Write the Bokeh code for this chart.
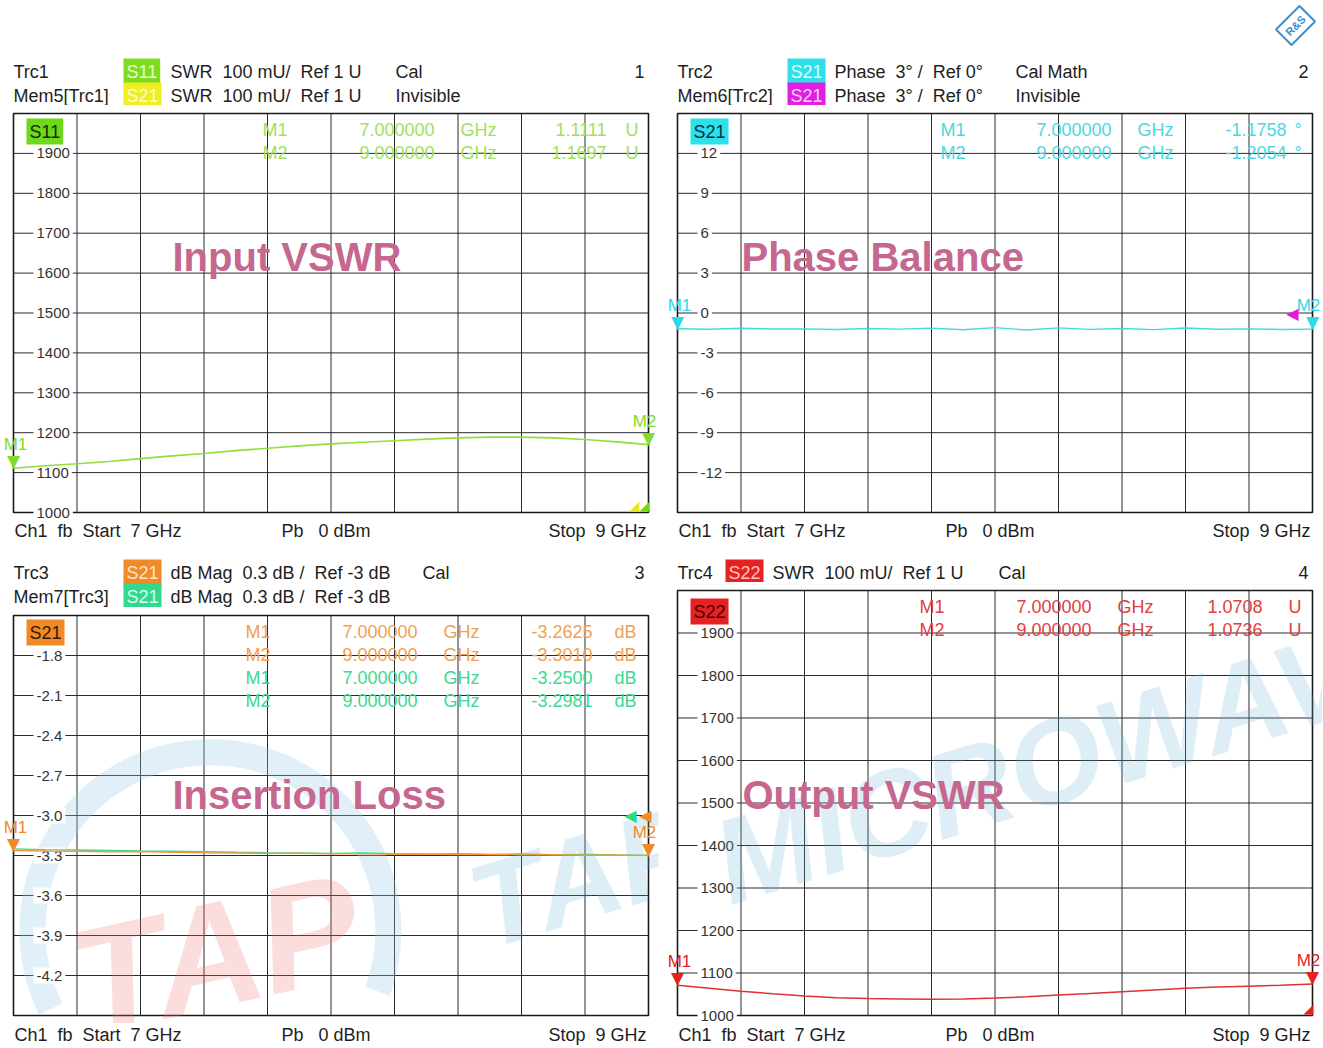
from bokeh.plotting import figure
from bokeh.models import Label, Range1d
from bokeh.layouts import column, row
from bokeh.embed import file_html
from bokeh.resources import INLINE

NB = "\u00a0"
FONT = "Liberation Sans"
TXT = "#1e1e1e"
GRID = "#2a2a2a"

# ---------------- data ----------------
freq_ghz = [7.0, 7.1, 7.2, 7.3, 7.4, 7.5, 7.6, 7.7, 7.8, 7.9, 8.0,
            8.1, 8.2, 8.3, 8.4, 8.5, 8.6, 8.7, 8.8, 8.9, 9.0]
x_ticks = [7.0, 7.2, 7.4, 7.6, 7.8, 8.0, 8.2, 8.4, 8.6, 8.8, 9.0]

s11_swr_mu = [1111, 1117, 1122, 1128, 1135, 1142, 1148, 1155, 1161, 1167, 1172,
              1176, 1180, 1184, 1187, 1189, 1189, 1187, 1183, 1177, 1170]
s21_phase_deg = [-1.18, -1.22, -1.15, -1.20, -1.19, -1.24, -1.17, -1.21, -1.14, -1.26, -1.10,
                 -1.28, -1.12, -1.23, -1.16, -1.25, -1.13, -1.22, -1.19, -1.24, -1.21]
s21_db = [-3.263, -3.266, -3.268, -3.272, -3.270, -3.276, -3.279, -3.281, -3.284, -3.283, -3.288,
          -3.286, -3.291, -3.289, -3.293, -3.292, -3.295, -3.294, -3.298, -3.296, -3.301]
s21_mem_db = [-3.250, -3.256, -3.259, -3.262, -3.266, -3.268, -3.272, -3.276, -3.279, -3.281, -3.284,
              -3.280, -3.287, -3.290, -3.286, -3.292, -3.289, -3.294, -3.292, -3.296, -3.298]
s22_swr_mu = [1071, 1064, 1057, 1051, 1046, 1042, 1040, 1039, 1038, 1039, 1041,
              1044, 1048, 1052, 1056, 1060, 1064, 1067, 1069, 1071, 1074]

swr_ticks = [1000, 1100, 1200, 1300, 1400, 1500, 1600, 1700, 1800, 1900, 2000]
swr_tick_labels = ["1000", "1100", "1200", "1300", "1400", "1500", "1600", "1700", "1800", "1900", ""]
phase_ticks = [-15, -12, -9, -6, -3, 0, 3, 6, 9, 12, 15]
phase_tick_labels = ["", "-12", "-9", "-6", "-3", "0", "3", "6", "9", "12", ""]
db_ticks = [-4.5, -4.2, -3.9, -3.6, -3.3, -3.0, -2.7, -2.4, -2.1, -1.8, -1.5]
db_tick_labels = ["", "-4.2", "-3.9", "-3.6", "-3.3", "-3.0", "-2.7", "-2.4", "-2.1", "-1.8", ""]

marker_freq = [7.0, 9.0]
marker_names = ["M1", "M2"]
marker_freq_text = ["7.000000", "9.000000"]
s11_marker_u = [1.1111, 1.1697]
s21_phase_marker = [-1.1758, -1.2054]
s21_db_marker = [-3.2625, -3.3010]
s21_mem_db_marker = [-3.2500, -3.2981]
s22_marker_u = [1.0708, 1.0736]

# ---------------- geometry ----------------
FW = 635          # visible plot box width (px)
PADX = 10         # extra drawing room left/right of the box
PADY = 8          # extra drawing room above/below the box
LEFT = dict(min_border_left=13 - PADX, min_border_right=4)
RIGHT = dict(min_border_left=5, min_border_right=0)


# ---------------- helpers ----------------
def base_fig(xr, yr, fh, side):
    p = figure(title=None, frame_width=FW + 2 * PADX, frame_height=fh, x_range=xr, y_range=yr,
               x_axis_location=None, y_axis_location=None,
               toolbar_location=None, output_backend="svg",
               min_border_top=0, min_border_bottom=0,
               background_fill_color="white", border_fill_color="white", **side)
    p.grid.visible = False
    p.outline_line_color = None
    return p


def text_fig(h, side):
    return base_fig(Range1d(-PADX, FW + PADX), Range1d(0, h), h, side)


def lab(p, x, y, text, dx=0, dy=0, color=TXT, size=18, align="left", bg=None,
        bold=False, pad=0, alpha=1.0, angle=0.0, baseline="middle", italic=False,
        font=FONT, border=None, border_w=1, level="annotation"):
    style = "bold" if bold else "normal"
    if italic:
        style = "bold italic" if bold else "italic"
    p.add_layout(Label(x=x, y=y, x_offset=dx, y_offset=dy, text=text,
                       text_color=color, text_font=font, text_font_size=f"{size}px",
                       text_align=align, text_baseline=baseline, text_font_style=style,
                       background_fill_color=bg, padding=pad, text_alpha=alpha,
                       angle=angle, border_line_color=border, border_line_width=border_w,
                       level=level))


def make_panel(ticks, labels, fh, side):
    ymin, ymax = ticks[0], ticks[-1]
    ex = PADX * (x_ticks[-1] - x_ticks[0]) / FW
    ey = PADY * (ymax - ymin) / fh
    p = base_fig(Range1d(x_ticks[0] - ex, x_ticks[-1] + ex), Range1d(ymin - ey, ymax + ey),
                 fh + 2 * PADY, side)
    inner_x = x_ticks[1:-1]
    p.segment(x0=inner_x, y0=[ymin] * len(inner_x), x1=inner_x, y1=[ymax] * len(inner_x),
              line_color=GRID, line_width=1, level="image")
    inner_y = ticks[1:-1]
    p.segment(x0=[x_ticks[0]] * len(inner_y), y0=inner_y, x1=[x_ticks[-1]] * len(inner_y),
              y1=inner_y, line_color=GRID, line_width=1, level="image")
    p.quad(left=[x_ticks[0]], right=[x_ticks[-1]], bottom=[ymin], top=[ymax],
           fill_color=None, line_color="#1a1a1a", line_width=1.6, level="image")
    for t, s in zip(ticks, labels):
        if s:
            lab(p, x_ticks[0], t, s, dx=20, size=15, color="#333333", bg="white", pad=3,
                level="underlay")
    return p


def footer(p, y):
    lab(p, 0, y, f"Ch1{NB}{NB}fb{NB}{NB}Start{NB}{NB}7 GHz", dx=1)
    lab(p, 0, y, f"Pb{NB}{NB}{NB}0 dBm", dx=268)
    lab(p, FW, y, f"Stop{NB}{NB}9 GHz", dx=-2, align="right")


def marker_rows(p, ymax, rows, cols, color, unit, first=0):
    for i, (nm, ft, vt) in enumerate(rows):
        dy = -16 - 23 * (i + first)
        lab(p, 7.0, ymax, nm, dx=cols[0], dy=dy, color=color)
        lab(p, 7.0, ymax, ft, dx=cols[1], dy=dy, color=color, align="right")
        lab(p, 7.0, ymax, "GHz", dx=cols[2], dy=dy, color=color)
        lab(p, 7.0, ymax, vt, dx=cols[3], dy=dy, color=color, align="right")
        lab(p, 7.0, ymax, unit, dx=cols[4], dy=dy, color=color)


def markers(p, ys, color):
    for f, y, nm, sh in zip(marker_freq, ys, marker_names, [2, -4]):
        lab(p, f, y, "\u25BC", color=color, size=17, align="center", baseline="bottom",
            font="DejaVu Sans", dy=-3)
        lab(p, f, y, nm, color=color, size=17, align="center", baseline="bottom", dy=14, dx=sh)


def title_text(p, ymax, text, dx, dy):
    lab(p, 7.0, ymax, text, dx=dx, dy=dy, color="#c5678f", size=40, bold=True)


# ================= left column =================
# header of panel 1 (page y 0..105)
h1 = text_fig(105, LEFT)
lab(h1, 0, 34, "Trc1")
lab(h1, 0, 34, "S11", dx=110, bg="#7ddc1f", color="#e6ffd0", pad=3)
lab(h1, 0, 34, f"SWR{NB}{NB}100 mU/{NB}{NB}Ref 1 U", dx=157)
lab(h1, 0, 34, "Cal", dx=382)
lab(h1, FW, 34, "1", dx=-4, align="right")
lab(h1, 0, 10, "Mem5[Trc1]")
lab(h1, 0, 10, "S21", dx=110, bg="#eeee22", color="#fbfbd8", pad=3)
lab(h1, 0, 10, f"SWR{NB}{NB}100 mU/{NB}{NB}Ref 1 U", dx=157)
lab(h1, 0, 10, "Invisible", dx=382)

# panel 1 : Input VSWR (box at page y 113..512)
p1 = make_panel(swr_ticks, swr_tick_labels, 399, LEFT)
p1.line(freq_ghz, s11_swr_mu, line_color="#8ee03a", line_width=1.6)
lab(p1, 7.0, 2000, "S11", dx=13, dy=-18, bg="#6fd81a", color="#1a2a00", pad=3)
marker_rows(p1, 2000,
            [(marker_names[i], marker_freq_text[i], f"{s11_marker_u[i]:.4f}") for i in range(2)],
            [249, 421, 447, 593, 612], "#9fe060", "U")
markers(p1, [v * 1000 for v in s11_marker_u], "#7fdc2a")
lab(p1, 9.0, 1000, "\u25E2", dx=-14, color="#e8e820", size=13, align="center",
    baseline="bottom", font="DejaVu Sans")
lab(p1, 9.0, 1000, "\u25E2", dx=-4, color="#6fd81a", size=13, align="center",
    baseline="bottom", font="DejaVu Sans")
title_text(p1, 2000, f"Input{NB}VSWR", 159, -143)

# footer of panel 1 + header of panel 3 (page y 520..607)
m1 = text_fig(87, LEFT)
footer(m1, 77)
lab(m1, 0, 35, "Trc3")
lab(m1, 0, 35, "S21", dx=110, bg="#f08a28", color="#fde4c8", pad=3)
lab(m1, 0, 35, f"dB Mag{NB}{NB}0.3 dB /{NB}{NB}Ref -3 dB", dx=157)
lab(m1, 0, 35, "Cal", dx=409)
lab(m1, FW, 35, "3", dx=-4, align="right")
lab(m1, 0, 11, "Mem7[Trc3]")
lab(m1, 0, 11, "S21", dx=110, bg="#30d890", color="#dcfff0", pad=3)
lab(m1, 0, 11, f"dB Mag{NB}{NB}0.3 dB /{NB}{NB}Ref -3 dB", dx=157)

# panel 3 : Insertion Loss (box at page y 615..1015)
p3 = make_panel(db_ticks, db_tick_labels, 400, LEFT)
p3.arc(x=[7.62], y=[-3.86], radius=178, radius_units="screen", start_angle=-0.35,
       end_angle=3.6, line_color="#9ccbe8", line_width=26, line_alpha=0.3, level="image")
lab(p3, 7.0, -4.5, "TAP", dx=62, dy=30, color="#f07878", size=150, bold=True,
    italic=True, alpha=0.25, angle=0.22, baseline="alphabetic", level="underlay")
lab(p3, 7.0, -4.5, "TAP", dx=460, dy=105, color="#6ab0dc", size=120, bold=True,
    italic=True, alpha=0.22, angle=0.3, baseline="alphabetic", level="underlay")
p3.line(freq_ghz, s21_mem_db, line_color="#3cd88c", line_width=1.4)
p3.line(freq_ghz, s21_db, line_color="#f09a40", line_width=1.4)
lab(p3, 7.0, -1.5, "S21", dx=13, dy=-17, bg="#f08a28", color="#3a1800", pad=3)
marker_rows(p3, -1.5,
            [(marker_names[i], marker_freq_text[i], f"{s21_db_marker[i]:.4f}") for i in range(2)],
            [232, 404, 430, 579, 601], "#f0a050", "dB")
marker_rows(p3, -1.5,
            [(marker_names[i], marker_freq_text[i], f"{s21_mem_db_marker[i]:.4f}") for i in range(2)],
            [232, 404, 430, 579, 601], "#40d890", "dB", first=2)
markers(p3, s21_db_marker, "#f08a28")
lab(p3, 9.0, -3.0, "\u25C0", dx=-18, color="#30d880", size=16, align="center",
    font="DejaVu Sans")
lab(p3, 9.0, -3.0, "\u25C0", dx=-3, color="#f08a28", size=16, align="center",
    font="DejaVu Sans")
title_text(p3, -1.5, f"Insertion{NB}Loss", 159, -179)

# footer of panel 3 (page y 1023..1045)
f3 = text_fig(22, LEFT)
footer(f3, 11)

# ================= right column =================
h2 = text_fig(105, RIGHT)
lab(h2, 0, 34, "Trc2")
lab(h2, 0, 34, "S21", dx=110, bg="#2ee0ea", color="#e0ffff", pad=3)
lab(h2, 0, 34, f"Phase{NB}{NB}3\u00b0 /{NB}{NB}Ref 0\u00b0", dx=157)
lab(h2, 0, 34, "Cal Math", dx=338)
lab(h2, FW, 34, "2", dx=-4, align="right")
lab(h2, 0, 10, "Mem6[Trc2]")
lab(h2, 0, 10, "S21", dx=110, bg="#e020e0", color="#ffd0ff", pad=3)
lab(h2, 0, 10, f"Phase{NB}{NB}3\u00b0 /{NB}{NB}Ref 0\u00b0", dx=157)
lab(h2, 0, 10, "Invisible", dx=338)
lab(h2, FW, 80, "R&S", dx=-17, color="#3a8fd0", size=11, bold=True,
    align="center", angle=0.785, border="#3a8fd0", border_w=2, pad=5)

# panel 2 : Phase Balance
p2 = make_panel(phase_ticks, phase_tick_labels, 399, RIGHT)
p2.line(freq_ghz, s21_phase_deg, line_color="#44d8e0", line_width=1.4)
lab(p2, 7.0, 15, "S21", dx=13, dy=-18, bg="#2ee0ea", color="#003040", pad=3)
marker_rows(p2, 15,
            [(marker_names[i], marker_freq_text[i], f"{s21_phase_marker[i]:.4f}") for i in range(2)],
            [263, 434, 460, 609, 617], "#4cd8e0", "\u00b0")
markers(p2, s21_phase_marker, "#30d8e8")
lab(p2, 9.0, 0, "\u25C0", dx=-20, color="#e020d0", size=16, align="center",
    font="DejaVu Sans")
title_text(p2, 15, f"Phase{NB}Balance", 64, -143)

# footer of panel 2 + header of panel 4 (page y 520..582)
m2 = text_fig(62, RIGHT)
footer(m2, 52)
lab(m2, 0, 10, "Trc4")
lab(m2, 0, 10, "S22", dx=48, bg="#e42222", color="#ffc0c0", pad=3)
lab(m2, 0, 10, f"SWR{NB}{NB}100 mU/{NB}{NB}Ref 1 U", dx=95)
lab(m2, 0, 10, "Cal", dx=321)
lab(m2, FW, 10, "4", dx=-4, align="right")

# panel 4 : Output VSWR (box at page y 590..1015)
p4 = make_panel(swr_ticks, swr_tick_labels, 425, RIGHT)
lab(p4, 7.0, 1000, "MICROWAV", dx=40, dy=150, color="#6ab0dc", size=120, bold=True,
    italic=True, alpha=0.22, angle=0.3, baseline="alphabetic", level="underlay")
p4.line(freq_ghz, s22_swr_mu, line_color="#e03030", line_width=1.5)
lab(p4, 7.0, 2000, "S22", dx=13, dy=-21, bg="#e42222", color="#500000", pad=3)
marker_rows(p4, 2000,
            [(marker_names[i], marker_freq_text[i], f"{s22_marker_u[i]:.4f}") for i in range(2)],
            [242, 414, 440, 585, 611], "#e04040", "U")
markers(p4, [v * 1000 for v in s22_marker_u], "#e42222")
lab(p4, 9.0, 1000, "\u25E2", dx=-4, color="#e42222", size=13, align="center",
    baseline="bottom", font="DejaVu Sans")
title_text(p4, 2000, f"Output{NB}VSWR", 65, -204)

f4 = text_fig(22, RIGHT)
footer(f4, 11)

layout = row(column(h1, p1, m1, p3, f3), column(h2, p2, m2, p4, f4))
open("out.html", "w").write(file_html(layout, INLINE))
